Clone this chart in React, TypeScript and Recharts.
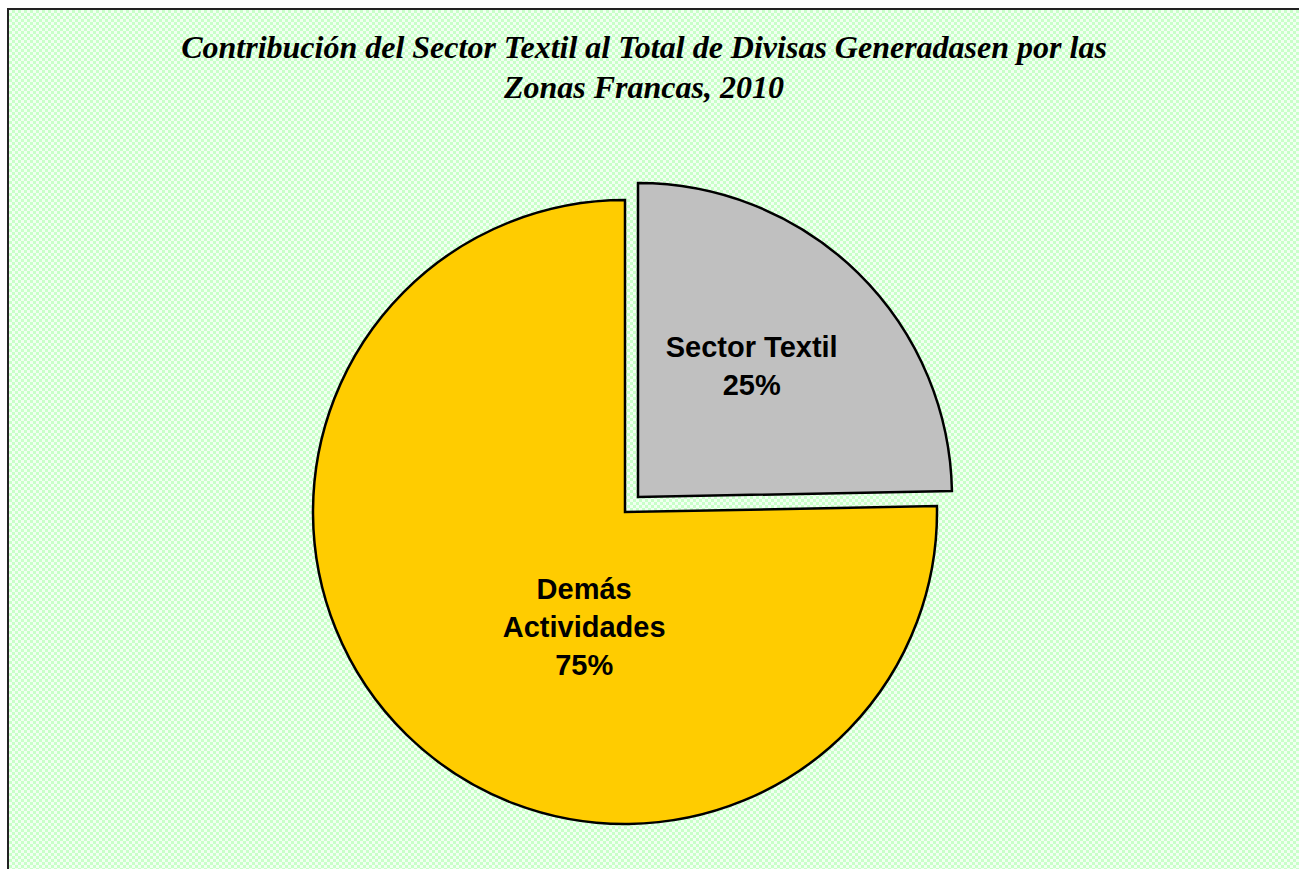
import React from 'react';
import { PieChart, Pie, Cell } from 'recharts';

const categories = ['Sector Textil', 'Demás Actividades'];
const shares = [24.7, 75.3];
const percentLabels = ['25%', '75%'];
const labelLines = [['Sector Textil'], ['Demás', 'Actividades']];

const chartTitle = ['Contribución del Sector Textil al Total de Divisas Generadasen por las', 'Zonas Francas, 2010'];

const colors = ['#c0c0c0', '#ffcc00'];

const data = categories.map((name, i) => ({ name, value: shares[i] }));

const W = 1310;
const H = 880;
const CX = 616;
const CY = 502;
const R = 312;
const EXPLODE = { dx: 13, dy: -15 };

// where Excel put the text inside each slice (angle in degrees, fraction of radius)
const labelSpots = [
  { angle: 49, dist: 0.552 },
  { angle: 250.4, dist: 0.39 },
];

const makeLabel = (visible: number) => (props: any) => {
  const { cx, cy, outerRadius, index } = props;
  if (index !== visible) return null;
  const spot = labelSpots[index];
  const rad = (spot.angle * Math.PI) / 180;
  const x = cx + Math.cos(rad) * outerRadius * spot.dist;
  const y = cy - Math.sin(rad) * outerRadius * spot.dist;
  const lines = [...labelLines[index], percentLabels[index]];
  const lh = 38;
  const top = y - ((lines.length - 1) * lh) / 2;
  return (
    <text
      key={'lbl' + index}
      x={x}
      y={top}
      textAnchor="middle"
      dominantBaseline="central"
      fontFamily='"Liberation Sans", Arial, sans-serif'
      fontWeight="bold"
      fontSize={29}
      fill="#000"
    >
      {lines.map((t, i) => (
        <tspan key={i} x={x} y={top + i * lh} dominantBaseline="central">
          {t}
        </tspan>
      ))}
    </text>
  );
};

export default function App() {
  return (
    <div
      style={{
        position: 'absolute',
        left: 7,
        top: 8,
        width: W,
        height: H,
        border: '2px solid #222',
        background: 'repeating-conic-gradient(#c8ffc8 0% 25%, #f2fff2 0% 50%) 0 0 / 6px 6px',
      }}
    >
      <div
        style={{
          position: 'absolute',
          left: 0,
          top: 17,
          width: 1270,
          textAlign: 'center',
          fontFamily: '"Liberation Serif", "Times New Roman", serif',
          fontStyle: 'italic',
          fontWeight: 'bold',
          fontSize: 32,
          lineHeight: '40px',
          color: '#000',
        }}
      >
        {chartTitle.map((t, i) => (
          <div key={i}>{t}</div>
        ))}
      </div>
      <PieChart
        width={W}
        height={H}
        margin={{ top: 0, right: 0, bottom: 0, left: 0 }}
        style={{ position: 'absolute', left: 0, top: 0 }}
      >
        <Pie
          data={data}
          dataKey="value"
          nameKey="name"
          cx={CX}
          cy={CY}
          outerRadius={R}
          startAngle={90}
          endAngle={-270}
          isAnimationActive={false}
          labelLine={false}
          label={makeLabel(1)}
        >
          {data.map((d, i) => (
            <Cell
              key={d.name}
              fill={i === 1 ? colors[1] : 'none'}
              stroke={i === 1 ? '#000' : 'none'}
              strokeWidth={2.5}
            />
          ))}
        </Pie>
        <Pie
          data={data}
          dataKey="value"
          nameKey="name"
          cx={CX + EXPLODE.dx}
          cy={CY + EXPLODE.dy}
          outerRadius={R + 2}
          startAngle={90}
          endAngle={-270}
          isAnimationActive={false}
          labelLine={false}
          label={makeLabel(0)}
        >
          {data.map((d, i) => (
            <Cell
              key={d.name}
              fill={i === 0 ? colors[0] : 'none'}
              stroke={i === 0 ? '#000' : 'none'}
              strokeWidth={2.5}
            />
          ))}
        </Pie>
      </PieChart>
    </div>
  );
}
